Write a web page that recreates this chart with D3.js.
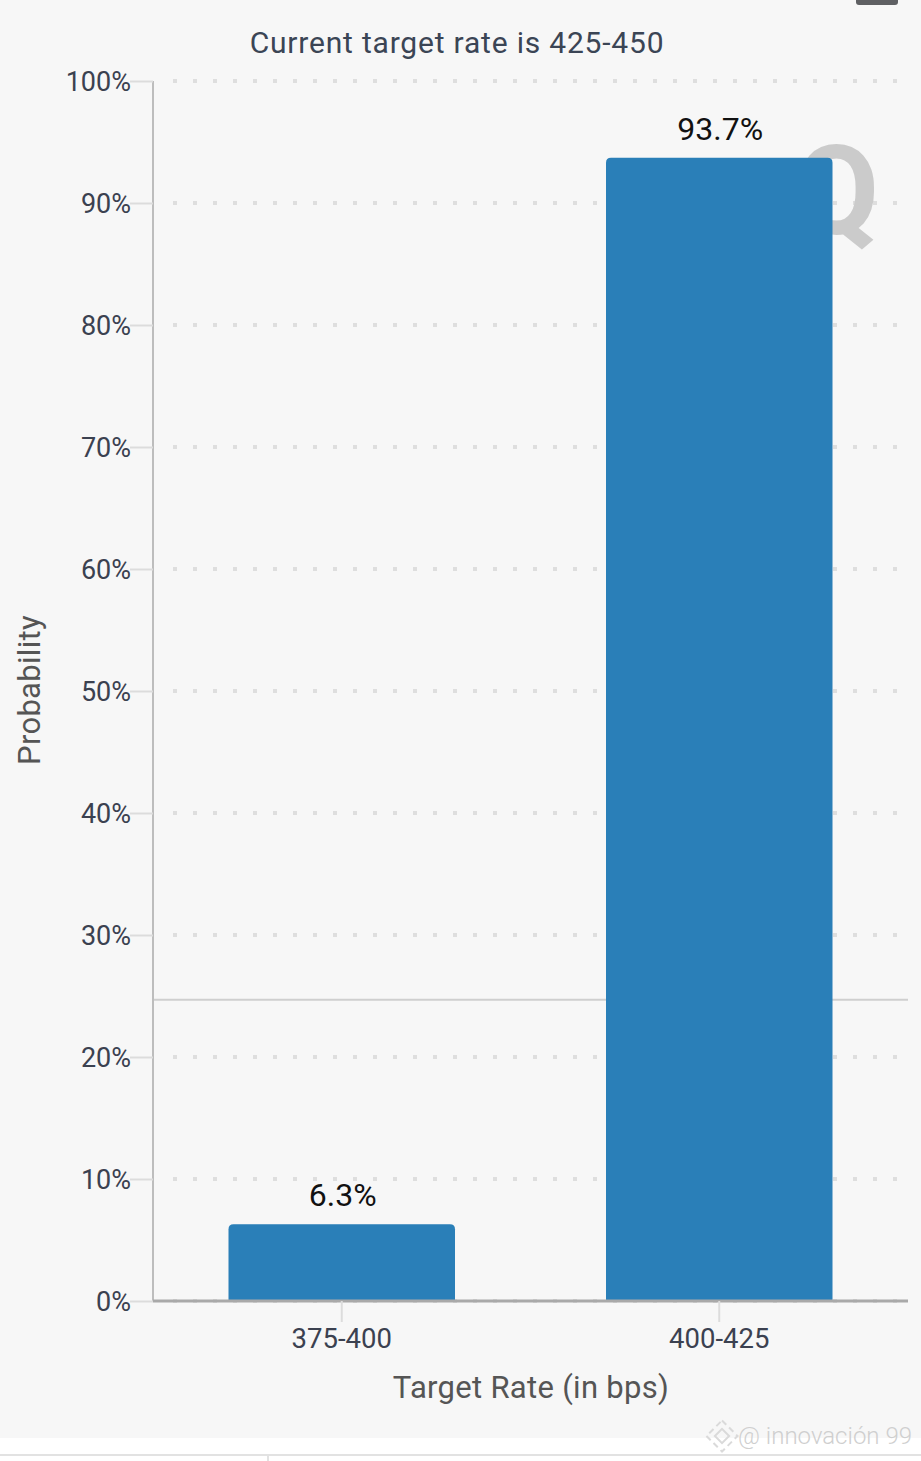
<!DOCTYPE html>
<html>
<head>
<meta charset="utf-8">
<script src="https://cdn.jsdelivr.net/npm/d3@7"></script>
<style>
    body { margin: 0; background: #f7f7f7; }
    svg { display: block; font-family: Roboto, "Noto Sans", sans-serif; }
</style>
</head>
<body>
<div id="plot"></div>
<script>

// chart values
var categories = ["375-400", "400-425"];
var probabilities = [6.3, 93.7];
var yTicks = [0, 10, 20, 30, 40, 50, 60, 70, 80, 90, 100];
var titleText = "Current target rate is 425-450";
var xTitle = "Target Rate (in bps)";
var yTitle = "Probability";

window.onload = function(){

    buildChart();

};

function buildChart(){

    var W = 921, H = 1461;

    var margin = {
        left: 153,
        top: 81,
        right: 13,
        bottom: 160
    };

    var width = W - margin.left - margin.right;
    var height = H - margin.top - margin.bottom;

    var svg = d3.select("#plot")
                .append("svg")
                .attr("width", W)
                .attr("height", H);

    svg.append("rect")
        .attr("width", W)
        .attr("height", H)
        .attr("fill", "#f7f7f7");

    // cropped bits of the screenshot around the chart
    svg.append("rect")
        .attr("x", 856).attr("y", -6)
        .attr("width", 42).attr("height", 11)
        .attr("rx", 3)
        .attr("fill", "#5f6063");

    svg.append("rect")
        .attr("x", 0).attr("y", 1438)
        .attr("width", W).attr("height", H - 1438)
        .attr("fill", "#ffffff");

    svg.append("line")
        .attr("x1", 0).attr("x2", W)
        .attr("y1", 1455).attr("y2", 1455)
        .attr("stroke", "#e2e2e2")
        .attr("stroke-width", 2);

    svg.append("line")
        .attr("x1", 268).attr("x2", 268)
        .attr("y1", 1455).attr("y2", H)
        .attr("stroke", "#e2e2e2")
        .attr("stroke-width", 2);

    var g = svg.append("g")
        .attr("transform", "translate(" + margin.left + "," + margin.top + ")");

    var xScale = d3.scaleBand()
        .domain(categories)
        .range([0, width])
        .paddingInner(0.4)
        .paddingOuter(0.2);

    var yScale = d3.scaleLinear()
        .domain([0, 100])
        .range([height, 0]);

    // dotted grid
    g.append("g")
        .selectAll("line")
        .data(yTicks)
        .enter()
        .append("line")
        .attr("x1", 20)
        .attr("x2", width)
        .attr("y1", d => yScale(d))
        .attr("y2", d => yScale(d))
        .attr("stroke", "#dedede")
        .attr("stroke-width", 4)
        .attr("stroke-dasharray", "4,16");

    // stray line from the screenshot
    g.append("line")
        .attr("x1", 0).attr("x2", width)
        .attr("y1", yScale(24.7)).attr("y2", yScale(24.7))
        .attr("stroke", "#cfcfcf")
        .attr("stroke-width", 2);

    // watermark behind the tall bar
    g.append("text")
        .attr("x", xScale("400-425") + xScale.bandwidth() + 4)
        .attr("y", yScale(87.5))
        .attr("text-anchor", "middle")
        .attr("font-size", 124)
        .attr("font-weight", "bold")
        .attr("fill", "#cbcbcb")
        .text("Q");

    // y axis
    var yAxis = g.append("g")
        .call(d3.axisLeft(yScale)
            .tickValues(yTicks)
            .tickSize(23)
            .tickPadding(0)
            .tickFormat(d => d + "%"));

    yAxis.select(".domain")
        .attr("stroke", "#bdbdbd")
        .attr("stroke-width", 2)
        .attr("d", "M0," + yScale(100) + "V" + yScale(0));

    yAxis.selectAll(".tick line")
        .attr("stroke", "#dcdcdc")
        .attr("stroke-width", 2);

    yAxis.selectAll(".tick text")
        .attr("x", -22)
        .attr("dy", "0.36em")
        .attr("font-size", 27)
        .attr("font-family", "Roboto")
        .attr("fill", "#3b4150");

    // bars with rounded tops
    var r = 5;

    g.append("g")
        .selectAll("path")
        .data(categories)
        .enter()
        .append("path")
        .attr("fill", "#2a7fb8")
        .attr("d", (d, i) => {

            var x0 = xScale(d);
            var x1 = x0 + xScale.bandwidth();
            var y0 = yScale(probabilities[i]);
            var yb = yScale(0);

            return "M" + x0 + "," + yb +
                "V" + (y0 + r) +
                "Q" + x0 + "," + y0 + " " + (x0 + r) + "," + y0 +
                "H" + (x1 - r) +
                "Q" + x1 + "," + y0 + " " + x1 + "," + (y0 + r) +
                "V" + yb + "Z";

        });

    // value labels
    g.append("g")
        .selectAll("text")
        .data(categories)
        .enter()
        .append("text")
        .attr("x", d => xScale(d) + xScale.bandwidth() / 2 + 1)
        .attr("y", (d, i) => yScale(probabilities[i]) - 18)
        .attr("text-anchor", "middle")
        .attr("font-size", 32)
        .attr("fill", "#111111")
        .text((d, i) => probabilities[i] + "%");

    // x axis
    var xAxis = g.append("g")
        .attr("transform", "translate(0," + height + ")")
        .call(d3.axisBottom(xScale)
            .tickSize(21)
            .tickPadding(6));

    xAxis.select(".domain")
        .attr("stroke", "#a9a9a9")
        .attr("stroke-width", 3)
        .attr("d", "M0,0H" + width);

    xAxis.selectAll(".tick line")
        .attr("stroke", "#dcdcdc")
        .attr("stroke-width", 2);

    xAxis.selectAll(".tick text")
        .attr("font-size", 27.5)
        .attr("font-family", "Roboto")
        .attr("fill", "#3b4150");

    // titles
    svg.append("text")
        .attr("x", 457)
        .attr("y", 53)
        .attr("text-anchor", "middle")
        .attr("font-size", 30)
        .attr("letter-spacing", 0.8)
        .attr("fill", "#3b4555")
        .text(titleText);

    svg.append("text")
        .attr("x", 531)
        .attr("y", 1398)
        .attr("text-anchor", "middle")
        .attr("font-size", 31)
        .attr("letter-spacing", 0.3)
        .attr("fill", "#555555")
        .text(xTitle);

    svg.append("text")
        .attr("transform", "translate(40,690) rotate(-90)")
        .attr("text-anchor", "middle")
        .attr("font-size", 31)
        .attr("letter-spacing", 0.3)
        .attr("fill", "#555555")
        .text(yTitle);

    // bottom watermark
    var wm = svg.append("g")
        .attr("fill", "none")
        .attr("stroke", "#dadada")
        .attr("stroke-width", 2);

    wm.append("rect")
        .attr("x", -5).attr("y", -5)
        .attr("width", 10).attr("height", 10)
        .attr("transform", "translate(722,1436) rotate(45)");

    wm.append("rect")
        .attr("x", -11).attr("y", -11)
        .attr("width", 22).attr("height", 22)
        .attr("stroke-dasharray", "6,4")
        .attr("transform", "translate(722,1436) rotate(45)");

    svg.append("text")
        .attr("x", 912)
        .attr("y", 1444)
        .attr("text-anchor", "end")
        .attr("font-size", 24)
        .attr("font-weight", 300)
        .attr("fill", "#cfcfcf")
        .text("@ innovación 99");

}

</script>
</body>
</html>
